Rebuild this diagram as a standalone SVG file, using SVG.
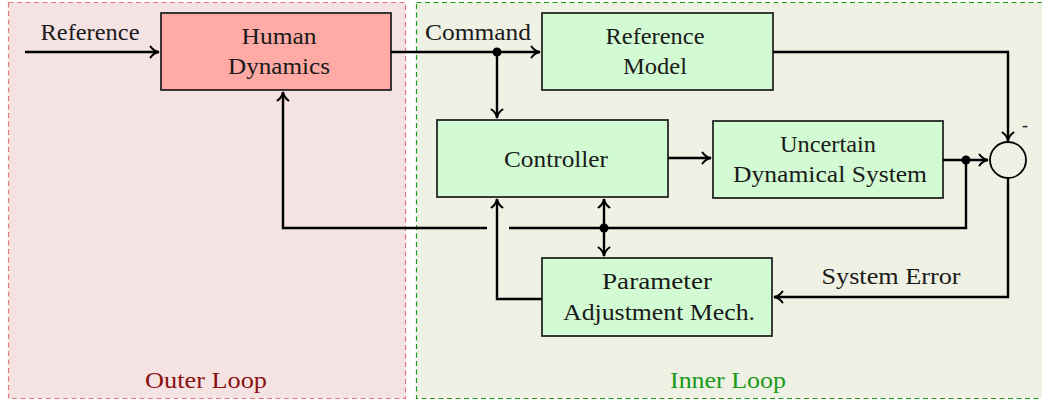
<svg xmlns="http://www.w3.org/2000/svg" width="1042" height="403" viewBox="0 0 1042 403">
<style>
text{font-family:"Liberation Serif","Times New Roman",serif;font-size:24px;fill:#1a1a1a;text-anchor:middle}
.box{stroke:#1a1a1a;stroke-width:1.7}
.g{fill:#d3fbd3}
.r{fill:#ffaaa5}
.c{fill:none;stroke:#000;stroke-width:2.4;stroke-linejoin:miter}
</style>
<defs>
<marker id="ar" viewBox="0 0 14 14" refX="12.5" refY="7" markerWidth="14" markerHeight="14" markerUnits="userSpaceOnUse" orient="auto-start-reverse">
<path d="M4,1.5 Q7,6 12.5,7 Q7,8 4,12.5" fill="none" stroke="#000" stroke-width="2" stroke-linecap="round"/>
</marker>
</defs>
<g id="outer-loop">
<rect x="8.5" y="2.5" width="397" height="396" fill="#f5e2e2" stroke="#e07a7a" stroke-width="1.2" stroke-dasharray="5,3.5"/>
<text x="206" y="388" style="fill:#8b1010;font-size:23px" textLength="122" lengthAdjust="spacingAndGlyphs">Outer Loop</text>
</g>
<g id="inner-loop">
<rect x="416.5" y="2.5" width="640" height="396" fill="#eef1e4" stroke="#1f9a1f" stroke-width="1.2" stroke-dasharray="5,3.5"/>
<text x="728" y="388" style="fill:#1a9a1a;font-size:23px" textLength="116" lengthAdjust="spacingAndGlyphs">Inner Loop</text>
</g>
<g id="human-dynamics">
<rect class="box r" x="161" y="13" width="230" height="77"/>
<text x="279" y="44" textLength="75" lengthAdjust="spacingAndGlyphs">Human</text>
<text x="279" y="74" textLength="102" lengthAdjust="spacingAndGlyphs">Dynamics</text>
</g>
<g id="reference-model">
<rect class="box g" x="542" y="13" width="231" height="77"/>
<text x="655" y="44" textLength="99" lengthAdjust="spacingAndGlyphs">Reference</text>
<text x="655" y="74" textLength="64" lengthAdjust="spacingAndGlyphs">Model</text>
</g>
<g id="controller">
<rect class="box g" x="437" y="120" width="231" height="77"/>
<text x="556" y="167" textLength="104" lengthAdjust="spacingAndGlyphs">Controller</text>
</g>
<g id="uncertain-system">
<rect class="box g" x="713" y="121" width="230" height="77"/>
<text x="828" y="152" textLength="96" lengthAdjust="spacingAndGlyphs">Uncertain</text>
<text x="830" y="182" textLength="194" lengthAdjust="spacingAndGlyphs">Dynamical System</text>
</g>
<g id="parameter-adjustment">
<rect class="box g" x="542" y="258" width="230" height="78"/>
<text x="657" y="289" textLength="110" lengthAdjust="spacingAndGlyphs">Parameter</text>
<text x="659" y="320" textLength="192" lengthAdjust="spacingAndGlyphs">Adjustment Mech.</text>
</g>
<g id="summing-junction">
<circle cx="1008" cy="160" r="18" fill="none" stroke="#000" stroke-width="1.8"/>
<text x="1025" y="131" style="font-size:18px">-</text>
</g>
<g id="connectors">
<path class="c" d="M25,52 H159" marker-end="url(#ar)"/>
<text x="90" y="40" textLength="99" lengthAdjust="spacingAndGlyphs">Reference</text>
<path class="c" d="M391,52 H540" marker-end="url(#ar)"/>
<text x="478" y="40" textLength="106" lengthAdjust="spacingAndGlyphs">Command</text>
<circle cx="497" cy="52" r="4.5" fill="#000"/>
<path class="c" d="M497,52 V118" marker-end="url(#ar)"/>
<path class="c" d="M773,52 H1008 V141" marker-end="url(#ar)"/>
<path class="c" d="M668,158 H711" marker-end="url(#ar)"/>
<path class="c" d="M943,160 H988" marker-end="url(#ar)"/>
<circle cx="966" cy="160" r="4.5" fill="#000"/>
<path class="c" d="M966,160 V228 H509"/>
<path class="c" d="M487,228 H283 V92" marker-end="url(#ar)"/>
<circle cx="604" cy="228" r="4.5" fill="#000"/>
<path class="c" d="M604,228 V199" marker-end="url(#ar)"/>
<path class="c" d="M604,228 V256" marker-end="url(#ar)"/>
<path class="c" d="M542,299 H497 V199" marker-end="url(#ar)"/>
<path class="c" d="M1008,178 V297 H774" marker-end="url(#ar)"/>
<text x="891" y="284" textLength="139" lengthAdjust="spacingAndGlyphs">System Error</text>
</g>
</svg>
